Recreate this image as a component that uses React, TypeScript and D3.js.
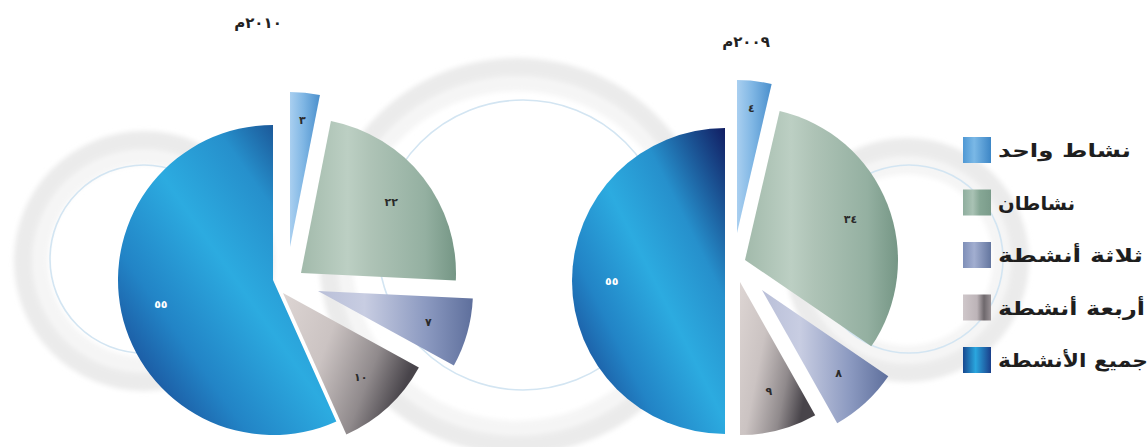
import React from "react";
import * as d3 from "d3";

const categories = ["نشاط واحد", "نشاطان", "ثلاثة أنشطة", "أربعة أنشطة", "جميع الأنشطة"];
const years = ["٢٠١٠م", "٢٠٠٩م"];
const values2010 = [3, 22, 7, 10, 55];
const values2009 = [4, 34, 8, 9, 55];

const W = 1148;
const H = 447;

const toArabicDigits = (v: number) =>
  String(v).replace(/\d/g, (d) => "٠١٢٣٤٥٦٧٨٩"[+d]);

// styles / layout
const gradIds = ["gOne", "gTwo", "gThree", "gFour", "gAll"];
const pies = [
  {
    values: values2010,
    title: years[0],
    cx: 285,
    cy: 275,
    r: 155,
    titleX: 258,
    titleY: 28,
    offsets: [[5, -28], [16, -2], [33, 16], [-2, 18], [-12, 5]],
  },
  {
    values: values2009,
    title: years[1],
    cx: 736,
    cy: 276,
    r: 153,
    titleX: 746,
    titleY: 47,
    offsets: [[1, -43], [9, -16], [26, 14], [4, 6], [-11, 5]],
  },
];

const rings = [
  { cx: 144, cy: 261, rIn: 96, rOut: 130, lcx: 144, lcy: 259, lr: 94 },
  { cx: 517, cy: 256, rIn: 165, rOut: 198, lcx: 523, lcy: 245, lr: 145 },
  { cx: 907, cy: 260, rIn: 86, rOut: 122, lcx: 909, lcy: 259, lr: 94 },
];

const legendX = 963;
const legendY0 = 137;
const legendStep = 52.5;
const legendTextWidths = [133, 77, 145, 147, 150];

export default function App() {
  const pieGen = d3
    .pie<number>()
    .sort(null)
    .value((d) => d)
    .startAngle(0)
    .endAngle(2 * Math.PI);

  const ringArc = d3.arc<any>().startAngle(0).endAngle(2 * Math.PI);

  return (
    <svg
      width={W}
      height={H}
      style={{ position: "absolute", left: 0, top: 0, background: "#fff" }}
      fontFamily="'DejaVu Sans', sans-serif"
    >
      <defs>
        <linearGradient id="gOne" x1="0" y1="0" x2="1" y2="0">
          <stop offset="0" stopColor="#a9cff0" />
          <stop offset="0.45" stopColor="#7fb6e4" />
          <stop offset="1" stopColor="#4a8fcc" />
        </linearGradient>
        <linearGradient id="gTwo" x1="0" y1="0" x2="1" y2="0">
          <stop offset="0" stopColor="#a2baab" />
          <stop offset="0.3" stopColor="#bccfc3" />
          <stop offset="0.45" stopColor="#aec3b6" />
          <stop offset="0.8" stopColor="#94b0a1" />
          <stop offset="1" stopColor="#759685" />
        </linearGradient>
        <linearGradient id="gThree" x1="0" y1="0" x2="1" y2="0">
          <stop offset="0" stopColor="#b9bfd8" />
          <stop offset="0.3" stopColor="#c8cde2" />
          <stop offset="0.7" stopColor="#8b99c0" />
          <stop offset="1" stopColor="#5e6f9c" />
        </linearGradient>
        <linearGradient id="gFour" x1="0" y1="0" x2="1" y2="0.4">
          <stop offset="0" stopColor="#ddd5d3" />
          <stop offset="0.4" stopColor="#cbc3c2" />
          <stop offset="0.75" stopColor="#908a8c" />
          <stop offset="1" stopColor="#48444a" />
        </linearGradient>
        <linearGradient id="gAll" x1="1" y1="0" x2="0" y2="1">
          <stop offset="0" stopColor="#111d62" />
          <stop offset="0.28" stopColor="#2690cc" />
          <stop offset="0.48" stopColor="#2cabe0" />
          <stop offset="0.7" stopColor="#2284c6" />
          <stop offset="1" stopColor="#152c7c" />
        </linearGradient>
        <linearGradient id="lgOne" x1="0" y1="0" x2="1" y2="0">
          <stop offset="0" stopColor="#4f98d4" />
          <stop offset="0.4" stopColor="#7ab8e6" />
          <stop offset="1" stopColor="#3d86c6" />
        </linearGradient>
        <linearGradient id="lgTwo" x1="0" y1="0" x2="1" y2="0">
          <stop offset="0" stopColor="#8fae9e" />
          <stop offset="0.35" stopColor="#a9c2b4" />
          <stop offset="0.6" stopColor="#86a795" />
          <stop offset="1" stopColor="#7a9b8a" />
        </linearGradient>
        <linearGradient id="lgThree" x1="0" y1="0" x2="1" y2="0">
          <stop offset="0" stopColor="#7f8fb8" />
          <stop offset="0.4" stopColor="#a2aed0" />
          <stop offset="1" stopColor="#64769f" />
        </linearGradient>
        <linearGradient id="lgFour" x1="0" y1="0" x2="1" y2="0">
          <stop offset="0" stopColor="#cfc7ca" />
          <stop offset="0.5" stopColor="#bdb4b8" />
          <stop offset="0.75" stopColor="#6e686c" />
          <stop offset="1" stopColor="#9a9296" />
        </linearGradient>
        <linearGradient id="lgAll" x1="0" y1="0" x2="1" y2="0">
          <stop offset="0" stopColor="#17488f" />
          <stop offset="0.45" stopColor="#2aa6de" />
          <stop offset="1" stopColor="#1a3f8a" />
        </linearGradient>
        <filter id="soft" x="-10%" y="-10%" width="120%" height="120%">
          <feGaussianBlur stdDeviation="2.5" />
        </filter>
      </defs>

      {/* decorative background rings */}
      {rings.map((g, i) => (
        <g key={"ring" + i}>
          <g filter="url(#soft)">
            <path
              transform={`translate(${g.cx},${g.cy})`}
              d={ringArc({ innerRadius: g.rOut - 18, outerRadius: g.rOut }) || ""}
              fill="#ebebeb"
            />
            <path
              transform={`translate(${g.cx},${g.cy})`}
              d={ringArc({ innerRadius: g.rIn, outerRadius: g.rOut - 18 }) || ""}
              fill="#f5f5f5"
            />
          </g>
          <circle
            cx={g.lcx}
            cy={g.lcy}
            r={g.lr}
            fill="none"
            stroke="#d3e5f2"
            strokeWidth={1.6}
          />
        </g>
      ))}

      {/* pies */}
      {pies.map((p, pi) => {
        const arcs = pieGen(p.values);
        const arc = d3.arc<d3.PieArcDatum<number>>().innerRadius(0).outerRadius(p.r);
        return (
          <g key={"pie" + pi}>
            {arcs.map((a, i) => {
              const [dx, dy] = p.offsets[i];
              const small = a.value < 5;
              const lr = p.r * (small ? 0.82 : 0.74);
              const [lx, ly] = d3
                .arc<d3.PieArcDatum<number>>()
                .innerRadius(lr)
                .outerRadius(lr)
                .centroid(a);
              const isAll = i === 4;
              return (
                <g key={i} transform={`translate(${p.cx + dx},${p.cy + dy})`}>
                  <path d={arc(a) || ""} fill={`url(#${gradIds[i]})`} />
                  <text
                    x={lx}
                    y={ly}
                    dy="0.35em"
                    textAnchor="middle"
                    fontSize={11}
                    fontWeight="bold"
                    fill={isAll ? "#ffffff" : "#2a2a2a"}
                  >
                    {toArabicDigits(a.value)}
                  </text>
                </g>
              );
            })}
            <text
              x={p.titleX}
              y={p.titleY}
              textAnchor="middle"
              fontSize={15}
              fontWeight="bold"
              fill="#222"
            >
              {p.title}
            </text>
          </g>
        );
      })}

      {/* legend */}
      {categories.map((c, i) => {
        const y = legendY0 + i * legendStep;
        return (
          <g key={"lg" + i}>
            <rect
              x={legendX}
              y={y}
              width={28}
              height={26}
              fill={`url(#l${gradIds[i]})`}
            />
            <text
              x={legendX + 35}
              y={y + 20}
              textAnchor="start"
              fontSize={19}
              fontWeight="bold"
              fill="#1e1e1e"
              textLength={legendTextWidths[i]}
              lengthAdjust="spacingAndGlyphs"
            >
              {c}
            </text>
          </g>
        );
      })}
    </svg>
  );
}
